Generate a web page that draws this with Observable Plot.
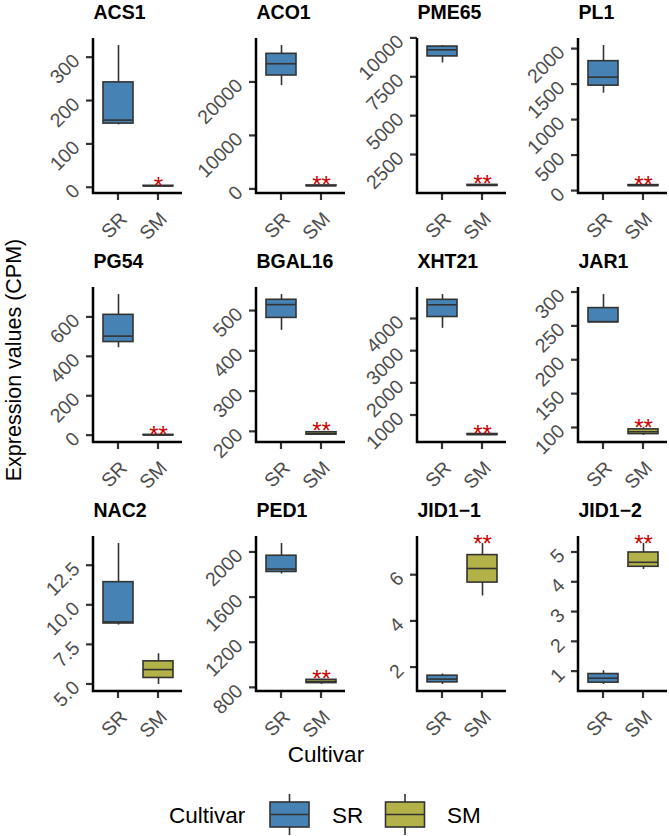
<!DOCTYPE html>
<html><head><meta charset="utf-8">
<script src="https://cdn.jsdelivr.net/npm/d3@7"></script>
<script src="https://cdn.jsdelivr.net/npm/@observablehq/plot@0.6"></script>
<style>
body{margin:0;background:#fff;}
#chart{position:relative;width:669px;height:836px;overflow:hidden;font-family:"Liberation Sans",Arial,sans-serif;background:#fff;}
#chart svg{position:absolute;}
</style></head><body><div id="chart"></div>
<script>
// ---- data ----
const genes = ["ACS1","ACO1","PME65","PL1","PG54","BGAL16","XHT21","JAR1","NAC2","PED1","JID1\u22121","JID1\u22122"];
const cultivars = ["SR","SM"];
const cultivarColors = ["#4682B4","#B3B248"];
// box statistics: [min, q1, median, q3, max]
const srStats = [
  [145,148,156,243,328],
  [19400,21300,23500,25350,26900],
  [8420,8840,9265,9475,9540],
  [1380,1485,1605,1830,2050],
  [446,475,505,613,716],
  [452,483,516,528,541],
  [3710,4062,4441,4596,4760],
  [256,256,257,277,297],
  [8.75,8.85,8.95,11.46,13.9],
  [1809,1827,1853,1971,2079],
  [1.27,1.36,1.50,1.65,1.72],
  [0.57,0.63,0.78,0.92,1.03]
];
const smStats = [
  [3,3.5,4,4.5,5],
  [550,620,680,740,800],
  [480,520,550,580,610],
  [65,72,78,84,90],
  [1,2,3,4,5],
  [191,193,196,199,201],
  [380,395,410,425,440],
  [89,91,94.5,98,100.5],
  [5.0,5.41,5.94,6.46,6.94],
  [830,842,856,871,877],
  [5.10,5.68,6.29,6.87,7.37],
  [4.43,4.52,4.67,5.0,5.30]
];
const signif = ["*","**","**","**","**","**","**","**","","**","**","**"];
const yTicks = [
  [0,100,200,300],
  [0,10000,20000],
  [2500,5000,7500,10000],
  [0,500,1000,1500,2000],
  [0,200,400,600],
  [200,300,400,500],
  [1000,2000,3000,4000],
  [100,150,200,250,300],
  [5,7.5,10,12.5],
  [800,1200,1600,2000],
  [2,4,6],
  [1,2,3,4,5]
];
const yTitle = "Expression values (CPM)";
const xTitle = "Cultivar";
const legendTitle = "Cultivar";

// ---- layout ----
const colX = [93,256,417,578];
const rowY = [38,287,535.5];
const PW = 89, PH = 155;
const ML = 72, MT = 40, MR = 2, MB = 52;
const FONT = '"Liberation Sans", Arial, sans-serif';
const tickGray = "#4D4D4D", lineGray = "#333333";
const chart = document.getElementById("chart");

function axisMark(ticks) {
  return (index, scales, values, dims) => {
    const {width, height, marginLeft: ml, marginTop: mt, marginRight: mr, marginBottom: mb} = dims;
    const yb = height - mb;
    const g = d3.create("svg:g");
    const x = scales.x, y = scales.y;
    const bw = x.bandwidth ? x.bandwidth() : 0;
    for (const t of ticks) {
      const yy = y(t);
      g.append("line").attr("x1", ml - 7).attr("x2", ml).attr("y1", yy).attr("y2", yy)
        .attr("stroke", lineGray).attr("stroke-width", 2.2);
    }
    for (const c of cultivars) {
      const cx = x(c) + bw / 2;
      g.append("line").attr("x1", cx).attr("x2", cx).attr("y1", yb).attr("y2", yb + 7)
        .attr("stroke", lineGray).attr("stroke-width", 2.2);
    }
    g.append("path").attr("d", `M${ml},${mt}V${yb}H${width - mr}`)
      .attr("fill", "none").attr("stroke", "#000").attr("stroke-width", 2.5);
    return g.node();
  };
}

genes.forEach((gene, i) => {
  const rows = [srStats[i], smStats[i]].map((s, k) => ({
    cultivar: cultivars[k], min: s[0], q1: s[1], med: s[2], q3: s[3], max: s[4]
  }));
  const lo = d3.min(rows, d => d.min), hi = d3.max(rows, d => d.max);
  const pad = (hi - lo) * 0.05;
  const ticks = yTicks[i];
  const dec = ticks.some(t => !Number.isInteger(t));
  const fmt = t => dec ? t.toFixed(1) : String(t);
  const sigRows = signif[i] ? [{...rows[1], sig: signif[i]}] : [];
  const el = Plot.plot({
    width: ML + PW + MR, height: MT + PH + MB,
    marginLeft: ML, marginTop: MT, marginRight: MR, marginBottom: MB,
    style: {background: "transparent", fontFamily: FONT, overflow: "visible"},
    x: {type: "band", domain: cultivars, paddingInner: 0.26, paddingOuter: 0.23, axis: null},
    y: {domain: [lo - pad, hi + pad], axis: null},
    color: {domain: cultivars, range: cultivarColors},
    marks: [
      Plot.ruleX(rows, {x: "cultivar", y1: "min", y2: "max", stroke: lineGray, strokeWidth: 1.6}),
      Plot.barY(rows, {x: "cultivar", y1: "q1", y2: "q3", fill: "cultivar", stroke: lineGray, strokeWidth: 1.6}),
      Plot.tickY(rows, {x: "cultivar", y: "med", stroke: lineGray, strokeWidth: 1.6}),
      Plot.text(sigRows, {x: "cultivar", y: "max", text: "sig", fill: "#CC0000", fontSize: 24, lineAnchor: "bottom", dy: 8}),
      Plot.text(ticks, {y: d => d, text: fmt, frameAnchor: "left", dx: -17, rotate: -45, textAnchor: "end", lineAnchor: "middle", fill: tickGray, fontSize: 19.5}),
      Plot.text(cultivars, {x: d => d, text: d => d, frameAnchor: "bottom", dy: 17, rotate: -45, textAnchor: "end", lineAnchor: "top", fill: tickGray, fontSize: 19.5}),
      Plot.text([gene], {frameAnchor: "top-left", dy: -20, textAnchor: "start", lineAnchor: "bottom", fontWeight: "bold", fontSize: 19.5, fill: "#000"}),
      axisMark(ticks)
    ]
  });
  const c = i % 4, r = Math.floor(i / 4);
  el.style.position = "absolute";
  el.style.left = (colX[c] - ML) + "px";
  el.style.top = (rowY[r] - MT) + "px";
  el.style.maxWidth = "none";
  chart.appendChild(el);
});

// ---- axis titles & legend ----
const ov = d3.select(chart).append("svg").attr("width", 669).attr("height", 836)
  .style("left", "0px").style("top", "0px").style("font-family", FONT);
ov.append("text").attr("transform", "translate(20.5,360) rotate(-90)").attr("text-anchor", "middle")
  .attr("font-size", 21.5).attr("fill", "#000").text(yTitle);
ov.append("text").attr("x", 326).attr("y", 762).attr("text-anchor", "middle")
  .attr("font-size", 22.5).attr("fill", "#000").text(xTitle);
ov.append("text").attr("x", 169).attr("y", 823).attr("font-size", 22.5).attr("fill", "#000").text(legendTitle);
const keyX = [270, 385.5], labX = [332, 447];
cultivars.forEach((cv, k) => {
  const g = ov.append("g");
  const cx = keyX[k] + 19.5;
  g.append("line").attr("x1", cx).attr("x2", cx).attr("y1", 794).attr("y2", 835).attr("stroke", lineGray).attr("stroke-width", 1.6);
  g.append("rect").attr("x", keyX[k]).attr("y", 802).attr("width", 39).attr("height", 25)
    .attr("fill", cultivarColors[k]).attr("stroke", lineGray).attr("stroke-width", 1.6);
  g.append("line").attr("x1", keyX[k]).attr("x2", keyX[k] + 39).attr("y1", 814.5).attr("y2", 814.5).attr("stroke", lineGray).attr("stroke-width", 1.6);
  ov.append("text").attr("x", labX[k]).attr("y", 823).attr("font-size", 22.5).attr("fill", "#000").text(cv);
});
</script></body></html>
